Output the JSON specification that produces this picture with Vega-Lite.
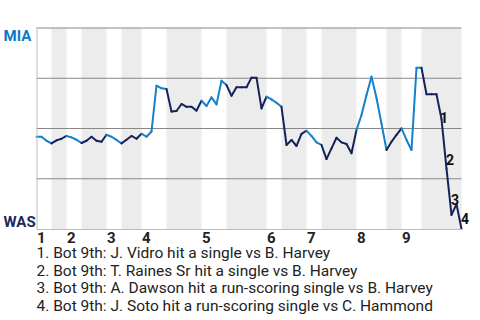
{
  "$schema": "https://vega.github.io/schema/vega-lite/v6.json",
  "width": 425,
  "height": 201,
  "autosize": "none",
  "padding": {"left": 36.5, "top": 28, "right": 18.5, "bottom": 91},
  "background": "white",
  "config": {"view": {"stroke": null}, "font": "Roboto"},
  "title": {
    "text": [
      "1. Bot 9th: J. Vidro hit a single vs B. Harvey",
      "2. Bot 9th: T. Raines Sr hit a single vs B. Harvey",
      "3. Bot 9th: A. Dawson hit a run-scoring single vs B. Harvey",
      "4. Bot 9th: J. Soto hit a run-scoring single vs C. Hammond"
    ],
    "orient": "bottom",
    "anchor": "start",
    "frame": "group",
    "font": "Roboto",
    "fontSize": 15.5,
    "fontWeight": "normal",
    "color": "#222222",
    "lineHeight": 17.7,
    "offset": 1
  },
  "datasets": {
    "bands": [
      {"start": 3, "end": 6}, {"start": 9, "end": 14}, {"start": 17, "end": 21},
      {"start": 26, "end": 33}, {"start": 38, "end": 46}, {"start": 49, "end": 54},
      {"start": 57, "end": 64}, {"start": 70, "end": 73}, {"start": 77, "end": 85}
    ],
    "grid": [{"v": 0.25}, {"v": 0.5}, {"v": 0.75}, {"v": 1}],
    "plays": [
      {"play": 0, "wp": 0.459, "bat": "MIA"},
      {"play": 1, "wp": 0.459, "bat": "MIA"},
      {"play": 2, "wp": 0.439, "bat": "MIA"},
      {"play": 3, "wp": 0.426, "bat": "MIA"},
      {"play": 4, "wp": 0.441, "bat": "WAS"},
      {"play": 5, "wp": 0.449, "bat": "WAS"},
      {"play": 6, "wp": 0.463, "bat": "WAS"},
      {"play": 7, "wp": 0.456, "bat": "MIA"},
      {"play": 8, "wp": 0.444, "bat": "MIA"},
      {"play": 9, "wp": 0.428, "bat": "MIA"},
      {"play": 10, "wp": 0.439, "bat": "WAS"},
      {"play": 11, "wp": 0.459, "bat": "WAS"},
      {"play": 12, "wp": 0.439, "bat": "WAS"},
      {"play": 13, "wp": 0.434, "bat": "WAS"},
      {"play": 14, "wp": 0.469, "bat": "WAS"},
      {"play": 15, "wp": 0.459, "bat": "MIA"},
      {"play": 16, "wp": 0.443, "bat": "MIA"},
      {"play": 17, "wp": 0.426, "bat": "MIA"},
      {"play": 18, "wp": 0.444, "bat": "WAS"},
      {"play": 19, "wp": 0.463, "bat": "WAS"},
      {"play": 20, "wp": 0.449, "bat": "WAS"},
      {"play": 21, "wp": 0.474, "bat": "WAS"},
      {"play": 22, "wp": 0.459, "bat": "MIA"},
      {"play": 23, "wp": 0.485, "bat": "MIA"},
      {"play": 24, "wp": 0.713, "bat": "MIA"},
      {"play": 25, "wp": 0.700, "bat": "MIA"},
      {"play": 26, "wp": 0.697, "bat": "MIA"},
      {"play": 27, "wp": 0.584, "bat": "WAS"},
      {"play": 28, "wp": 0.587, "bat": "WAS"},
      {"play": 29, "wp": 0.622, "bat": "WAS"},
      {"play": 30, "wp": 0.608, "bat": "WAS"},
      {"play": 31, "wp": 0.608, "bat": "WAS"},
      {"play": 32, "wp": 0.589, "bat": "WAS"},
      {"play": 33, "wp": 0.638, "bat": "WAS"},
      {"play": 34, "wp": 0.612, "bat": "MIA"},
      {"play": 35, "wp": 0.655, "bat": "MIA"},
      {"play": 36, "wp": 0.620, "bat": "MIA"},
      {"play": 37, "wp": 0.738, "bat": "MIA"},
      {"play": 38, "wp": 0.716, "bat": "MIA"},
      {"play": 39, "wp": 0.663, "bat": "WAS"},
      {"play": 40, "wp": 0.705, "bat": "WAS"},
      {"play": 41, "wp": 0.705, "bat": "WAS"},
      {"play": 42, "wp": 0.705, "bat": "WAS"},
      {"play": 43, "wp": 0.753, "bat": "WAS"},
      {"play": 44, "wp": 0.753, "bat": "WAS"},
      {"play": 45, "wp": 0.600, "bat": "WAS"},
      {"play": 46, "wp": 0.658, "bat": "WAS"},
      {"play": 47, "wp": 0.645, "bat": "MIA"},
      {"play": 48, "wp": 0.628, "bat": "MIA"},
      {"play": 49, "wp": 0.608, "bat": "MIA"},
      {"play": 50, "wp": 0.418, "bat": "WAS"},
      {"play": 51, "wp": 0.443, "bat": "WAS"},
      {"play": 52, "wp": 0.413, "bat": "WAS"},
      {"play": 53, "wp": 0.473, "bat": "WAS"},
      {"play": 54, "wp": 0.489, "bat": "WAS"},
      {"play": 55, "wp": 0.463, "bat": "MIA"},
      {"play": 56, "wp": 0.431, "bat": "MIA"},
      {"play": 57, "wp": 0.418, "bat": "MIA"},
      {"play": 58, "wp": 0.348, "bat": "WAS"},
      {"play": 59, "wp": 0.401, "bat": "WAS"},
      {"play": 60, "wp": 0.454, "bat": "WAS"},
      {"play": 61, "wp": 0.431, "bat": "WAS"},
      {"play": 62, "wp": 0.423, "bat": "WAS"},
      {"play": 63, "wp": 0.377, "bat": "WAS"},
      {"play": 64, "wp": 0.493, "bat": "WAS"},
      {"play": 65, "wp": 0.567, "bat": "MIA"},
      {"play": 66, "wp": 0.667, "bat": "MIA"},
      {"play": 67, "wp": 0.758, "bat": "MIA"},
      {"play": 68, "wp": 0.652, "bat": "MIA"},
      {"play": 69, "wp": 0.524, "bat": "MIA"},
      {"play": 70, "wp": 0.393, "bat": "MIA"},
      {"play": 71, "wp": 0.434, "bat": "WAS"},
      {"play": 72, "wp": 0.468, "bat": "WAS"},
      {"play": 73, "wp": 0.501, "bat": "WAS"},
      {"play": 74, "wp": 0.443, "bat": "MIA"},
      {"play": 75, "wp": 0.393, "bat": "MIA"},
      {"play": 76, "wp": 0.802, "bat": "MIA"},
      {"play": 77, "wp": 0.802, "bat": "MIA"},
      {"play": 78, "wp": 0.670, "bat": "WAS"},
      {"play": 79, "wp": 0.670, "bat": "WAS"},
      {"play": 80, "wp": 0.670, "bat": "WAS"},
      {"play": 81, "wp": 0.547, "bat": "WAS"},
      {"play": 82, "wp": 0.300, "bat": "WAS"},
      {"play": 83, "wp": 0.070, "bat": "WAS"},
      {"play": 84, "wp": 0.124, "bat": "WAS"},
      {"play": 85, "wp": 0.000, "bat": "WAS"}
    ],
    "notes": [
      {"x": 81.5, "wp": 0.545, "label": "1"},
      {"x": 82.7, "wp": 0.338, "label": "2"},
      {"x": 83.7, "wp": 0.137, "label": "3"},
      {"x": 85.7, "wp": 0.047, "label": "4"}
    ]
  },
  "layer": [
    {
      "data": {"name": "bands"},
      "mark": {"type": "rect", "color": "#ececec"},
      "encoding": {
        "x": {
          "field": "start", "type": "quantitative",
          "scale": {"domain": [0, 85], "nice": false, "zero": false},
          "axis": {
            "values": [0, 6, 14, 21, 33, 46, 54, 64, 73],
            "labelExpr": "indexof([0, 6, 14, 21, 33, 46, 54, 64, 73], datum.value) + 1",
            "labelAlign": "left",
            "labelPadding": 1,
            "labelFont": "Roboto",
            "labelFontSize": 15,
            "labelFontWeight": "bold",
            "labelColor": "#222222",
            "labelFlush": false,
            "ticks": false,
            "grid": false,
            "domainColor": "#bbbbbb",
            "title": null,
            "zindex": 1
          }
        },
        "x2": {"field": "end"}
      }
    },
    {
      "data": {"name": "grid"},
      "mark": {"type": "rule", "color": "#888888", "strokeWidth": 1},
      "encoding": {
        "y": {"field": "v", "type": "quantitative"}
      }
    },
    {
      "data": {"name": "plays"},
      "transform": [
        {"window": [
          {"op": "lead", "field": "play", "as": "nplay"},
          {"op": "lead", "field": "wp", "as": "nwp"},
          {"op": "lead", "field": "bat", "as": "nbat"}
        ], "sort": [{"field": "play", "order": "ascending"}]},
        {"filter": "datum.nplay != null"}
      ],
      "mark": {"type": "rule", "strokeWidth": 2, "strokeCap": "round"},
      "encoding": {
        "x": {"field": "play", "type": "quantitative"},
        "x2": {"field": "nplay"},
        "y": {
          "field": "wp", "type": "quantitative",
          "scale": {"domain": [0, 1], "nice": false},
          "axis": {
            "values": [0, 1],
            "labelExpr": "datum.value === 1 ? 'MIA' : 'WAS'",
            "labelFlush": true,
            "labelAlign": "left",
            "labelPadding": 33.5,
            "labelFont": "Roboto",
            "labelFontSize": 15,
            "labelFontWeight": "bold",
            "labelColor": {"condition": {"test": "datum.value === 1", "value": "#0b77c5"}, "value": "#1b2a5c"},
            "ticks": false,
            "grid": false,
            "domainColor": "#bbbbbb",
            "title": null,
            "zindex": 1
          }
        },
        "y2": {"field": "nwp"},
        "color": {
          "field": "nbat", "type": "nominal",
          "scale": {"domain": ["MIA", "WAS"], "range": ["#1580cc", "#14225a"]},
          "legend": null
        }
      }
    },
    {
      "data": {"name": "notes"},
      "mark": {"type": "text", "fontWeight": "bold", "fontSize": 14, "font": "Roboto", "color": "#111111"},
      "encoding": {
        "x": {"field": "x", "type": "quantitative"},
        "y": {"field": "wp", "type": "quantitative"},
        "text": {"field": "label"}
      }
    }
  ]
}
